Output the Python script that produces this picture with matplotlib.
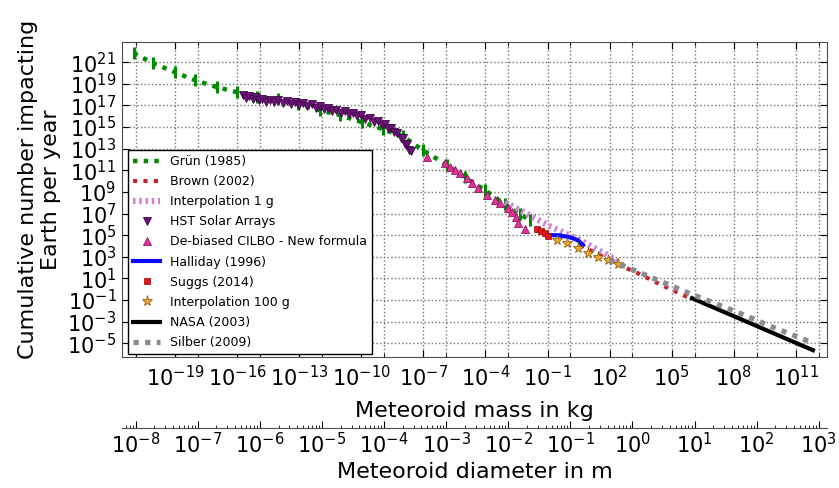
import numpy as np
import matplotlib
matplotlib.use("Agg")
import matplotlib.pyplot as plt
from matplotlib.ticker import FixedLocator, NullLocator, NullFormatter, LogLocator

# all values are log10: mass in kg, cumulative number per year
grun_logm = [-21.0, -20.05, -19.0, -18.03, -16.97, -16.0, -15.04, -14.02, -13.06, -12.0,
             -11.03, -9.97, -8.95, -8.0, -7.02, -5.86, -5.0, -4.02, -3.06, -2.33, -1.85]
grun_logn = [21.83, 20.91, 20.07, 19.33, 18.69, 18.22, 17.76, 17.58, 17.11, 16.56,
             16.10, 15.45, 14.80, 14.15, 12.86, 11.47, 10.36, 9.16, 7.86, 6.94, 6.38]

brown_logm = [0.57, 1.53, 2.50, 3.46, 4.43, 5.88]
brown_logn = [4.07, 3.15, 2.22, 1.39, 0.46, -0.83]

interp1g_logm = [-3.06, -2.33, -1.61, -0.88, -0.16, 0.57, 1.29, 2.01, 2.50]
interp1g_logn = [8.05, 7.31, 6.57, 5.83, 5.18, 4.53, 3.79, 3.05, 2.41]

hst_logm = [-15.70, -15.55, -15.40, -15.25, -15.10, -14.95, -14.80, -14.60, -14.40, -14.20,
            -14.00, -13.80, -13.60, -13.40, -13.20, -13.00, -12.80, -12.60, -12.40, -12.20,
            -12.00, -11.80, -11.60, -11.40, -11.20, -11.00, -10.80, -10.60, -10.40, -10.20,
            -10.00, -9.80, -9.60, -9.40, -9.20, -9.00, -8.85, -8.70, -8.55, -8.40,
            -8.25, -8.10, -7.98, -7.88, -7.78, -7.68, -7.60]
hst_logn = [17.95, 17.73, 17.86, 17.60, 17.75, 17.47, 17.63, 17.35, 17.53, 17.29,
            17.47, 17.22, 17.38, 17.13, 17.31, 17.07, 17.25, 16.98, 17.10, 16.81,
            16.95, 16.66, 16.80, 16.50, 16.62, 16.33, 16.47, 16.20, 16.34, 16.05,
            16.10, 15.75, 15.83, 15.48, 15.57, 15.20, 15.27, 14.88, 14.95, 14.52,
            14.48, 14.00, 13.98, 13.48, 13.42, 12.90, 12.77]

cilbo_logm = [-6.83, -5.96, -5.71, -5.47, -5.23, -4.89, -4.65, -4.36, -3.93, -3.54,
              -3.30, -2.91, -2.72, -2.53, -2.43, -2.09]
cilbo_logn = [12.21, 11.66, 11.29, 11.01, 10.73, 10.27, 9.81, 9.34, 8.70, 8.23,
              7.96, 7.49, 7.12, 6.66, 6.11, 5.55]

halliday_logm = [-0.98, -0.50, 0.08, 0.47, 0.71]
halliday_logn = [5.00, 5.00, 4.81, 4.53, 4.07]

suggs_logm = [-1.51, -1.32, -1.13, -0.98]
suggs_logn = [5.55, 5.37, 5.18, 4.90]

interp100g_logm = [-0.55, -0.06, 0.47, 0.95, 1.43, 1.92, 2.40]
interp100g_logn = [4.53, 4.26, 3.79, 3.33, 2.96, 2.68, 2.31]

nasa_logm = [5.98, 11.82]
nasa_logn = [-0.83, -5.64]

silber_logm = [2.0, 4.0, 6.0, 8.0, 10.0, 11.8]
silber_logn = [2.7, 1.1, -0.5, -2.0, -3.6, -4.95]

mass_tick_exp = np.arange(-19, 12, 3)
count_tick_exp = np.arange(-5, 22, 2)
diam_tick_exp = np.arange(-8, 4)

density = 2400.0  # kg/m^3, used for the diameter scale


def p(v):
    return 10.0 ** np.asarray(v, dtype=float)


def m2d(m):
    return np.cbrt(np.asarray(m, dtype=float) / (density * np.pi / 6))


def d2m(d):
    return density * np.pi / 6 * np.asarray(d, dtype=float) ** 3


fig = plt.figure(figsize=(8.39, 4.88), dpi=100)
ax = fig.add_axes([0.1454, 0.2684, 0.8403, 0.6462])

ax.plot(p(grun_logm), p(grun_logn), color="#008a00", ls=(0, (1, 1.4)), lw=3.2, label="Grün (1985)")
ax.plot(p(grun_logm), p(grun_logn), color="#008a00", ls="none", marker="|", ms=9, mew=2.2)
ax.plot(p(brown_logm), p(brown_logn), color="#c0282d", ls=(0, (1, 1.5)), lw=3, label="Brown (2002)")
ax.plot(p(interp1g_logm), p(interp1g_logn), color="#d080d6", ls=(0, (0.4, 0.6)), lw=4.5,
        label="Interpolation 1 g")
ax.plot(p(hst_logm), p(hst_logn), ls="none", marker="v", ms=6, color="#6e127c",
        mec="#3d0645", mew=0.6, label="HST Solar Arrays")
ax.plot(p(cilbo_logm), p(cilbo_logn), ls="none", marker="^", ms=6, color="#e3339a",
        mec="#8a1a5a", mew=0.6, label="De-biased CILBO - New formula")
ax.plot(p(halliday_logm), p(halliday_logn), color="#0a0aff", lw=3, label="Halliday (1996)")
ax.plot(p(suggs_logm), p(suggs_logn), ls="none", marker="s", ms=5, color="#e01515",
        mec="#a00000", mew=0.5, label="Suggs (2014)")
ax.plot(p(interp100g_logm), p(interp100g_logn), ls="none", marker="*", ms=8, color="#f2a531",
        mec="#7a5200", mew=0.5, label="Interpolation 100 g")
ax.plot(p(nasa_logm), p(nasa_logn), color="black", lw=3, label="NASA (2003)")
ax.plot(p(silber_logm), p(silber_logn), color="#8c8c8c", ls=(0, (1, 1.2)), lw=3.8, label="Silber (2009)")

ax.set_xscale("log")
ax.set_yscale("log")
ax.set_xlim(10 ** -21.56, 10 ** 12.5)
ax.set_ylim(10 ** -6.27, 10 ** 22.9)

ax.xaxis.set_major_locator(FixedLocator(p(mass_tick_exp)))
ax.xaxis.set_minor_locator(FixedLocator(d2m(p(diam_tick_exp))))
ax.xaxis.set_minor_formatter(NullFormatter())
ax.yaxis.set_major_locator(FixedLocator(p(count_tick_exp)))
ax.yaxis.set_minor_locator(NullLocator())
ax.tick_params(which="both", direction="in", top=True, right=True, labelsize=15)
ax.tick_params(which="major", length=5)
ax.tick_params(which="minor", length=3)
ax.tick_params(axis="x", pad=6)
ax.tick_params(axis="y", pad=4)
ax.grid(True, which="both", linestyle=":", color="0.45", linewidth=1)
for s in ax.spines.values():
    s.set_color("0.3")

sec = ax.secondary_xaxis(-0.225, functions=(m2d, d2m))
sec.xaxis.set_major_locator(FixedLocator(p(diam_tick_exp)))
sec.xaxis.set_minor_locator(LogLocator(base=10, subs=np.arange(2, 10), numticks=40))
sec.xaxis.set_minor_formatter(NullFormatter())
sec.tick_params(which="both", direction="in", labelsize=15, pad=3)
sec.tick_params(which="major", length=5)
sec.tick_params(which="minor", length=2.5)
sec.spines["bottom"].set_color("0.3")

ax.legend(loc="lower left", bbox_to_anchor=(0.0085, 0.0095), borderaxespad=0, fontsize=9,
          fancybox=False, edgecolor="black", framealpha=1, handlelength=2.2,
          labelspacing=0.57, numpoints=1)

fig.text(0.047, 0.611, "Cumulative number impacting\nEarth per year", rotation=90,
         ha="center", va="center", multialignment="center", fontsize=16)
fig.text(0.566, 0.158, "Meteoroid mass in kg", ha="center", va="center", fontsize=16)
fig.text(0.566, 0.033, "Meteoroid diameter in m", ha="center", va="center", fontsize=16)

fig.savefig("out.png", dpi=100, facecolor="white")
